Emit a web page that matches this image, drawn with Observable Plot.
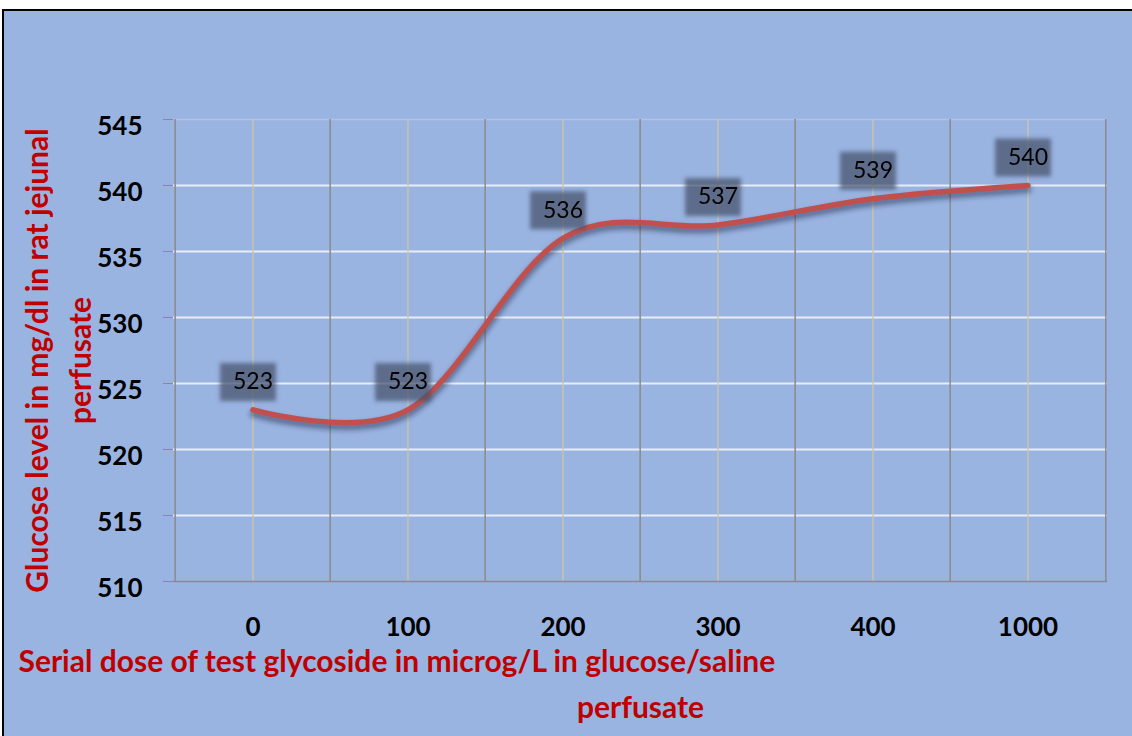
<!DOCTYPE html>
<html>
<head>
<meta charset="utf-8">
<script src="https://cdn.jsdelivr.net/npm/d3@7"></script>
<script src="https://cdn.jsdelivr.net/npm/@observablehq/plot@0.6"></script>
<style>
  html, body { margin: 0; padding: 0; background: #ffffff; width: 1132px; height: 736px; overflow: hidden; }
  #frame { position: absolute; left: 2px; top: 9px; width: 1150px; height: 760px; border: 2px solid #000; background: #9AB4E2; }
  #chart { position: absolute; left: 0; top: 0; }
</style>
</head>
<body>
<div id="frame"></div>
<div id="chart"></div>
<script>
const doses = ["0", "100", "200", "300", "400", "1000"];
const glucose = [523, 523, 536, 537, 539, 540];
const yTicks = [510, 515, 520, 525, 530, 535, 540, 545];
const xTitle = "Serial dose of test glycoside in microg/L in glucose/saline";
const xTitle2 = "perfusate";
const yTitle = "Glucose level in mg/dl in rat jejunal\nperfusate";

const data = doses.map((d, i) => ({dose: d, value: glucose[i]}));

const W = 1132, H = 736, mL = 173, mR = 25, mT = 119, mB = 155;
const bw = (W - mL - mR) / doses.length;
const gray = "#8A8A8A";
const font = "Lato, 'Open Sans', sans-serif";

const rectSymbol = { draw(ctx) { ctx.rect(-28, -19, 56, 38); } };

const chart = Plot.plot({
  width: W, height: H,
  marginLeft: mL, marginRight: mR, marginTop: mT, marginBottom: mB,
  style: { background: "transparent", fontFamily: font, fontSize: "26px", overflow: "visible" },
  x: { type: "band", domain: doses, padding: 0, label: null },
  y: { domain: [510, 545], label: null },
  marks: [
    Plot.ruleY(yTicks.slice(1, -1), { stroke: "#FFFFFF", strokeOpacity: 0.75, strokeWidth: 2 }),
    Plot.ruleY([545], { stroke: "#B8C6DE", strokeOpacity: 0.8, strokeWidth: 1.5 }),
    Plot.ruleX(doses, { stroke: "#CFC6A2", strokeWidth: 1.3 }),
    Plot.ruleX(doses, { stroke: gray, strokeWidth: 1.5, dx: -bw / 2 }),
    Plot.ruleX([doses[doses.length - 1]], { stroke: gray, strokeWidth: 1.5, dx: bw / 2 }),
    Plot.ruleY([510], { stroke: gray, strokeWidth: 1.5 }),
    Plot.axisY({ ticks: yTicks, tickSize: 10, stroke: gray, tickFormat: () => "" }),
    Plot.axisY({ ticks: yTicks, tickSize: 0, tickPadding: 31, dy: 7, fill: "#000", fontSize: 26, fontWeight: "bold" }),
    Plot.axisX({ tickSize: 0, tickPadding: 36, fill: "#000", fontSize: 26, fontWeight: "bold" }),
    Plot.line(data, { x: "dose", y: "value", curve: "cardinal", tension: 0, stroke: "#1E2A45", strokeOpacity: 0.5, strokeWidth: 7, dy: 4, strokeLinecap: "round" }),
    Plot.line(data, { x: "dose", y: "value", curve: "cardinal", tension: 0, stroke: "#C0504D", strokeWidth: 5.5, strokeLinecap: "round" }),
    Plot.dot(data, { x: "dose", y: "value", symbol: rectSymbol, r: 1, fill: "#45506A", fillOpacity: 0.72, stroke: "none", dx: -5, dy: -28 }),
    Plot.text(data, { x: "dose", y: "value", text: d => String(d.value), dy: -28, fill: "#000", fontSize: 23, fontWeight: "normal" }),
    Plot.text([yTitle], { frameAnchor: "left", dx: -118, dy: 10, rotate: -90, lineHeight: 1.45, fill: "#C00000", fontSize: 30, fontWeight: "bold", textAnchor: "middle" }),
    Plot.text([xTitle], { frameAnchor: "bottom-left", dx: 18 - mL, dy: 90, textAnchor: "start", fill: "#C00000", fontSize: 30, fontWeight: "bold" }),
    Plot.text([xTitle2], { frameAnchor: "bottom-left", dx: 640 - mL, dy: 136, textAnchor: "middle", fill: "#C00000", fontSize: 30, fontWeight: "bold" })
  ]
});

// soft shadows / blurred label boxes, as in the original
const svg = d3.select(chart);
const defs = svg.insert("defs", ":first-child");
defs.append("filter").attr("id", "blurShadow").attr("x", "-10%").attr("y", "-10%").attr("width", "120%").attr("height", "120%")
  .append("feGaussianBlur").attr("stdDeviation", 2.5);
defs.append("filter").attr("id", "blurBox").attr("x", "-20%").attr("y", "-20%").attr("width", "140%").attr("height", "140%")
  .append("feGaussianBlur").attr("stdDeviation", 2);
const lines = svg.selectAll('g[aria-label="line"]');
if (lines.size() > 0) d3.select(lines.nodes()[0]).attr("filter", "url(#blurShadow)");
svg.selectAll('g[aria-label="dot"]').attr("filter", "url(#blurBox)");

document.getElementById("chart").appendChild(chart);
</script>
</body>
</html>
